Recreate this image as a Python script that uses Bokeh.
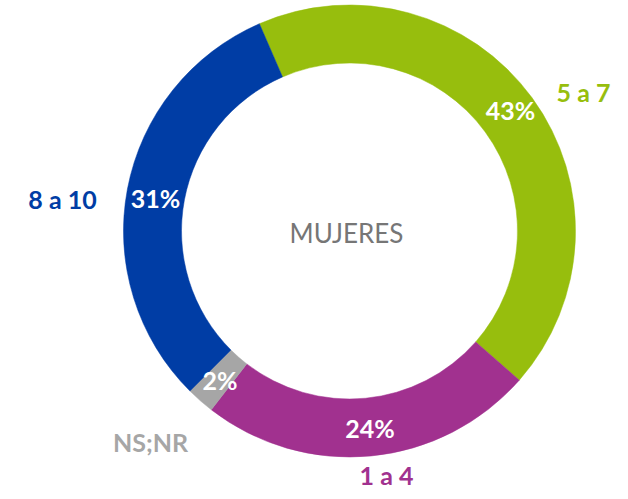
import math
from bokeh.plotting import figure
from bokeh.models import ColumnDataSource, Range1d
from bokeh.core.properties import value
from bokeh.embed import file_html
from bokeh.resources import INLINE

categories = ["5 a 7", "1 a 4", "NS;NR", "8 a 10"]
values = [43, 24, 2, 31]
pct_labels = ["43%", "24%", "2%", "31%"]
colors = ["#97BE0D", "#A1318F", "#A6A6A6", "#003DA5"]
center_title = "MUJERES"

W, H = 612, 491
p = figure(width=W, height=H, output_backend="svg", toolbar_location=None,
           x_range=Range1d(0, W), y_range=Range1d(0, H), min_border=0)
p.axis.visible = False
p.grid.visible = False
p.outline_line_color = None
p.background_fill_color = "white"
p.border_fill_color = "white"

def conv(X, Y):
    return X, H - Y

cx, cy = conv(349, 230.5)
r_out, r_in = 226, 168
start_deg = 113.5
total = sum(values)
cum = 0
starts, ends = [], []
for v in values:
    starts.append(math.radians(start_deg - cum / total * 360))
    cum += v
    ends.append(math.radians(start_deg - cum / total * 360))

src = ColumnDataSource(dict(start=starts, end=ends, color=colors))
p.annular_wedge(x=cx, y=cy, inner_radius=r_in, outer_radius=r_out,
                start_angle="start", end_angle="end", direction="clock",
                fill_color="color", line_color="color", line_width=0.5, source=src)

pct_pos = [(510, 109), (369.5, 427), (219.5, 379), (155, 197)]
cat_pos = [(583, 91), (386, 474), (150, 441), (62, 198)]

pdata = dict(x=[conv(*q)[0] for q in pct_pos], y=[conv(*q)[1] for q in pct_pos], t=pct_labels)
p.text(x="x", y="y", text="t", source=ColumnDataSource(pdata), text_color="white",
       text_font=value("Lato"), text_font_style="bold", text_font_size="25px",
       text_align="center", text_baseline="middle")

cdata = dict(x=[conv(*q)[0] for q in cat_pos], y=[conv(*q)[1] for q in cat_pos],
             t=categories, c=colors)
p.text(x="x", y="y", text="t", source=ColumnDataSource(cdata), text_color="c",
       text_font=value("Lato"), text_font_style="bold", text_font_size="25px",
       text_align="center", text_baseline="middle")

mx, my = conv(346, 232)
p.text(x=[mx], y=[my], text=[center_title], text_color="#767676",
       text_font=value("Lato"), text_font_size="26px",
       text_align="center", text_baseline="middle")

open("out.html", "w").write(file_html(p, INLINE))
